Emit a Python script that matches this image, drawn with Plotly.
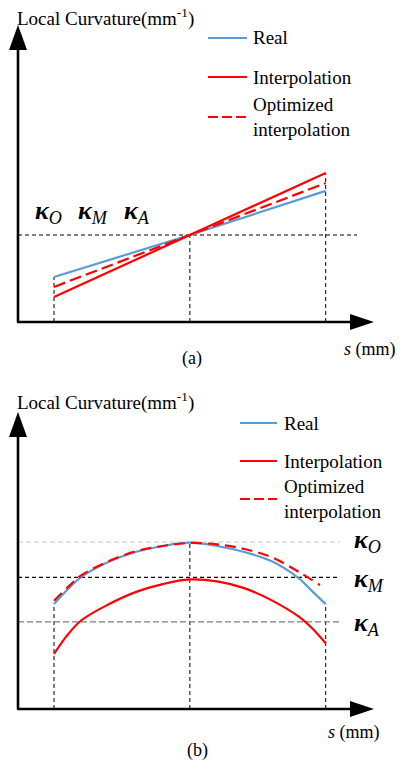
import plotly.graph_objects as go

# ---------------- data ----------------
# (a) linear curvature along the path
s_a = [0, 5, 10]
real_a = [1.55, 3.0, 4.52]
interp_a = [0.86, 3.0, 5.14]
opt_a = [1.21, 3.0, 4.79]
kappa_mid_a = 3.0

# (b) arc-shaped curvature along the path
s_b = [0, 0.5, 1, 2, 3, 4, 5, 6, 7, 8, 9, 9.5, 10]
real_b = [3.14, 3.58, 3.95, 4.40, 4.70, 4.88, 4.98, 4.88, 4.70, 4.43, 3.92, 3.53, 3.14]
interp_b = [1.65, 2.22, 2.65, 3.13, 3.50, 3.74, 3.88, 3.82, 3.62, 3.26, 2.77, 2.42, 1.97]
s_opt_b = [0, 0.5, 1, 2, 3, 4, 5, 6, 7, 8, 9, 9.79]
opt_b = [3.24, 3.64, 4.00, 4.42, 4.72, 4.88, 4.97, 4.93, 4.79, 4.55, 4.11, 3.71]
kappa_O, kappa_M, kappa_A = 5.0, 3.94, 2.61

legend_labels = ["Real", "Interpolation", "Optimized<br>interpolation"]

# ---------------- styling ----------------
W, H = 400, 762
BLUE = "#5B9BD5"
RED = "#FF0000"
SERIF = "Liberation Serif"
LW = 2.2
DASH = "12px,5px"
GUIDE = "4px,3px"

px_per_s = 27.17
s_at_px0 = -54 / px_per_s
x_range = [s_at_px0, s_at_px0 + W / px_per_s]
# vertical scales of the two panels (pixels per curvature unit)
ya_scale, ya_zero = 29.0, 322      # panel (a): axis at pixel row 322
yb_scale, yb_zero = 33.4, 709      # panel (b): axis at pixel row 709
ya_range = [(ya_zero - H / 2) / ya_scale, ya_zero / ya_scale]
yb_range = [(yb_zero - H) / yb_scale, (yb_zero - H / 2) / yb_scale]
s_axis = (18 - 54) / px_per_s


def P(x, y):
    """pixel position -> paper coordinates"""
    return x / W, 1 - y / H


fig = go.Figure()

# ---------- panel (a) ----------
fig.add_trace(go.Scatter(x=s_a, y=real_a, mode="lines", line=dict(color=BLUE, width=LW),
                         xaxis="x", yaxis="y", name="Real"))
fig.add_trace(go.Scatter(x=s_a, y=interp_a, mode="lines", line=dict(color=RED, width=LW),
                         xaxis="x", yaxis="y", name="Interpolation"))
fig.add_trace(go.Scatter(x=s_a, y=opt_a, mode="lines", line=dict(color=RED, width=LW, dash=DASH),
                         xaxis="x", yaxis="y", name="Optimized interpolation"))

# ---------- panel (b) ----------
curve = dict(width=LW, shape="spline", smoothing=1.0)
fig.add_trace(go.Scatter(x=s_b, y=real_b, mode="lines", line=dict(color=BLUE, **curve),
                         xaxis="x2", yaxis="y2", name="Real"))
fig.add_trace(go.Scatter(x=s_b, y=interp_b, mode="lines", line=dict(color=RED, **curve),
                         xaxis="x2", yaxis="y2", name="Interpolation"))
fig.add_trace(go.Scatter(x=s_opt_b, y=opt_b, mode="lines",
                         line=dict(color=RED, dash="11px,6px", width=LW, shape="spline", smoothing=1.0),
                         xaxis="x2", yaxis="y2", name="Optimized interpolation"))

shapes = []

# guide lines, panel (a)
tops_a = [max(r, i, o) for r, i, o in zip(real_a, interp_a, opt_a)]
for s, top in zip(s_a, tops_a):
    shapes.append(dict(type="line", xref="x", yref="y", x0=s, x1=s, y0=0, y1=top,
                       line=dict(color="black", width=1, dash=GUIDE), layer="below"))
shapes.append(dict(type="line", xref="x", yref="y", x0=s_axis, x1=(357 - 54) / px_per_s,
                   y0=kappa_mid_a, y1=kappa_mid_a,
                   line=dict(color="black", width=1, dash=GUIDE), layer="below"))

# guide lines, panel (b)
tops_b = [real_b[0], kappa_O, real_b[-1]]
for s, top in zip([s_b[0], 5, s_b[-1]], tops_b):
    shapes.append(dict(type="line", xref="x2", yref="y2", x0=s, x1=s, y0=0, y1=top,
                       line=dict(color="black", width=1, dash=GUIDE), layer="below"))
s_guide_end = (340 - 54) / px_per_s
for lvl, col, dsh in [(kappa_O, "#c8c8c8", "5px,3px"),
                      (kappa_M, "black", GUIDE),
                      (kappa_A, "#808080", "6px,3px")]:
    shapes.append(dict(type="line", xref="x2", yref="y2", x0=s_axis, x1=s_guide_end,
                       y0=lvl, y1=lvl, line=dict(color=col, width=1.2, dash=dsh), layer="below"))


# axes with arrowheads
def axes_with_arrows(x_org, y_org, y_tip, x_tip):
    out = []
    a = P(x_org, y_org)
    out.append(dict(type="line", xref="paper", yref="paper", x0=a[0], y0=a[1],
                    x1=P(x_org, y_tip + 22)[0], y1=P(x_org, y_tip + 22)[1],
                    line=dict(color="black", width=2.6)))
    out.append(dict(type="line", xref="paper", yref="paper", x0=P(x_org - 1, y_org)[0], y0=a[1],
                    x1=P(x_tip - 22, y_org)[0], y1=a[1],
                    line=dict(color="black", width=2.6)))
    t = P(x_org, y_tip)
    b1 = P(x_org - 9, y_tip + 25)
    b2 = P(x_org + 9, y_tip + 25)
    out.append(dict(type="path", xref="paper", yref="paper",
                    path=f"M{t[0]},{t[1]} L{b1[0]},{b1[1]} L{b2[0]},{b2[1]} Z",
                    fillcolor="black", line=dict(color="black", width=0)))
    t = P(x_tip, y_org)
    b1 = P(x_tip - 24, y_org - 8)
    b2 = P(x_tip - 24, y_org + 8)
    out.append(dict(type="path", xref="paper", yref="paper",
                    path=f"M{t[0]},{t[1]} L{b1[0]},{b1[1]} L{b2[0]},{b2[1]} Z",
                    fillcolor="black", line=dict(color="black", width=0)))
    return out


shapes += axes_with_arrows(18, 322, 25, 374)
shapes += axes_with_arrows(18, 709, 412, 374)

annotations = []


def text(x, y, s, size=18, xanchor="left", yanchor="middle", color="black"):
    px, py = P(x, y)
    annotations.append(dict(xref="paper", yref="paper", x=px, y=py, text=s, showarrow=False,
                            xanchor=xanchor, yanchor=yanchor, align="left",
                            font=dict(family=SERIF, size=size, color=color)))


# legends (sample line + label)
def legend_block(x0, x1, x_text, ys):
    styles = [dict(color=BLUE, width=LW), dict(color=RED, width=LW),
              dict(color=RED, width=LW, dash="10px,4px")]
    for y, st, lab in zip(ys, styles, legend_labels):
        a, b = P(x0, y), P(x1, y)
        shapes.append(dict(type="line", xref="paper", yref="paper",
                           x0=a[0], x1=b[0], y0=a[1], y1=b[1], line=st))
        text(x_text, y, lab, size=19)


legend_block(208, 247, 251, [38, 77, 117])
legend_block(240, 277, 282, [423, 461, 499])

# axis titles
text(15, 17, "Local Curvature(mm<sup>-1</sup>)", size=19)
text(15, 402, "Local Curvature(mm<sup>-1</sup>)", size=19)
text(342, 350, "<i>s</i> (mm)", size=18)
text(326, 732, "<i>s</i> (mm)", size=18)
text(192, 358, "(a)", size=18, xanchor="center")
text(197, 750, "(b)", size=18, xanchor="center")


# curvature symbols
def kappa(sub):
    return f"<b><i>κ</i></b><sub><i>{sub}</i></sub>"


text(33, 212, kappa("O"), size=26)
text(76, 212, kappa("M"), size=26)
text(122, 212, kappa("A"), size=26)
text(352, 541, kappa("O"), size=26)
text(352, 580, kappa("M"), size=26)
text(352, 624, kappa("A"), size=26)

axis_off = dict(visible=False, showgrid=False, zeroline=False, fixedrange=True)
fig.update_layout(
    width=W, height=H,
    margin=dict(l=0, r=0, t=0, b=0),
    paper_bgcolor="white", plot_bgcolor="white",
    showlegend=False,
    font=dict(family=SERIF),
    xaxis=dict(domain=[0, 1], range=x_range, anchor="y", **axis_off),
    yaxis=dict(domain=[0.5, 1], range=ya_range, anchor="x", **axis_off),
    xaxis2=dict(domain=[0, 1], range=x_range, anchor="y2", **axis_off),
    yaxis2=dict(domain=[0, 0.5], range=yb_range, anchor="x2", **axis_off),
    shapes=shapes,
    annotations=annotations,
)

fig.write_html("out.html")
